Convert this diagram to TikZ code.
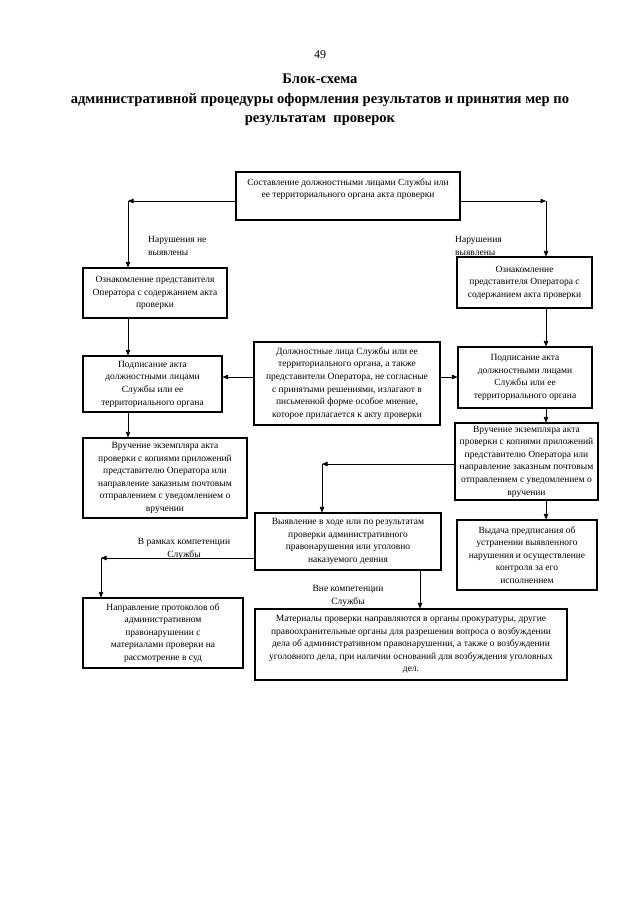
\documentclass[tikz,border=0pt]{standalone}
\usepackage{fontspec}
\setmainfont{Liberation Serif}
\usetikzlibrary{arrows.meta}
\newcommand\bx{\fontsize{9.5}{12.6}\selectfont}
\newcommand\ttl{\fontsize{14.6}{19.5}\selectfont\bfseries}
\begin{document}
\begin{tikzpicture}[x=1pt,y=-1pt,
  box/.style={draw, line width=1.1pt, inner sep=0pt, align=center, font=\bx},
  txt/.style={inner sep=0pt, align=center, font=\bx},
  lbl/.style={inner sep=0pt, font=\bx},
  arr/.style={line width=0.6pt, -{Triangle[length=5.5pt,width=4.5pt]}}]
\useasboundingbox[fill=white] (0,0) rectangle (640,905);

\node[inner sep=0pt, font=\fontsize{12}{14}\selectfont] (pg) at (320,55) {49};
\node[inner sep=0pt, align=center, font=\ttl] (title) at (320,100)
  {Блок-схема\\административной процедуры оформления результатов и принятия мер по\\результатам\ \ проверок};

% boxes
\node[box, minimum width=224pt, minimum height=48pt] (top) at (348,196) {};
\node[txt] (toptxt) at (348,189) {Составление должностными лицами Службы или\\ее территориального органа акта проверки};

\node[box, minimum width=144pt, minimum height=50pt] (l1) at (155,293)
  {Ознакомление представителя\\Оператора с содержанием акта\\проверки};
\node[box, minimum width=135pt, minimum height=51pt] (r1) at (524.5,282.5)
  {Ознакомление\\представителя Оператора с\\содержанием акта проверки};

\node[box, minimum width=139pt, minimum height=56pt] (l2) at (152.5,384)
  {Подписание акта\\должностными лицами\\Службы или ее\\территориального органа};
\node[box, minimum width=186pt, minimum height=83pt] (mid) at (347,383.5)
  {Должностные лица Службы или ее\\территориального органа, а также\\представители Оператора, не согласные\\с принятыми решениями, излагают в\\письменной форме особое мнение,\\которое прилагается к акту проверки};
\node[box, minimum width=134pt, minimum height=61pt] (r2) at (525,377.5)
  {Подписание акта\\должностными лицами\\Службы или ее\\территориального органа};

\node[box, minimum width=164pt, minimum height=80pt] (l3) at (165,478)
  {Вручение экземпляра акта\\проверки с копиями приложений\\представителю Оператора или\\направление заказным почтовым\\отправлением с уведомлением о\\вручении};
\node[box, minimum width=143pt, minimum height=77pt] (r3) at (526.5,461.5)
  {Вручение экземпляра акта\\проверки с копиями приложений\\представителю Оператора или\\направление заказным почтовым\\отправлением с уведомлением о\\вручении};

\node[box, minimum width=186pt, minimum height=57pt] (vy) at (348,541.5)
  {Выявление в ходе или по результатам\\проверки административного\\правонарушения или уголовно\\наказуемого деяния};
\node[box, minimum width=140pt, minimum height=70pt] (vd) at (527,555)
  {Выдача предписания об\\устранении выявленного\\нарушения и осуществление\\контроля за его\\исполнением};

\node[box, minimum width=160pt, minimum height=70pt] (np) at (163,633)
  {Направление протоколов об\\административном\\правонарушении с\\материалами проверки на\\рассмотрение в суд};
\node[box, minimum width=312pt, minimum height=71pt] (mt) at (411,644.5)
  {Материалы проверки направляются в органы прокуратуры, другие\\правоохранительные органы для разрешения вопроса о возбуждении\\дела об административном правонарушении, а также о возбуждении\\уголовного дела, при наличии оснований для возбуждения уголовных\\дел.};

% labels
\node[lbl, anchor=west, align=left] (ln) at (148,246) {Нарушения не\\выявлены};
\node[lbl, anchor=west, align=left] (ly) at (455,246) {Нарушения\\выявлены};
\node[lbl, align=center] (lr) at (184,549) {В рамках компетенции\\Службы};
\node[lbl, align=center] (lv) at (348,596) {Вне компетенции\\Службы};

% bend points
\coordinate (tl) at (128,201);
\coordinate (tr) at (546,201);
\coordinate (cr3) at (322,464);
\coordinate (cvy) at (101,558);

% connectors
\draw[arr] (top.west |- tl) -- (tl);
\draw[arr] (tl) -- (l1.north -| tl);
\draw[arr] (top.east |- tr) -- (tr);
\draw[arr] (tr) -- (r1.north -| tr);

\draw[arr] (l1.south -| tl) -- (l2.north -| tl);
\draw[arr] (l2.south -| tl) -- (l3.north -| tl);
\draw[arr] (r1.south -| tr) -- (r2.north -| tr);
\draw[arr] (r2.south -| tr) -- (r3.north -| tr);
\draw[arr] (r3.south -| tr) -- (vd.north -| tr);

\coordinate (my) at (0,377);
\draw[arr] (mid.west |- my) -- (l2.east |- my);
\draw[arr] (mid.east |- my) -- (r2.west |- my);

\draw[arr] (r3.west |- cr3) -- (cr3);
\draw[arr] (cr3) -- (vy.north -| cr3);

\draw[arr] (vy.west |- cvy) -- (cvy);
\draw[arr] (cvy) -- (np.north -| cvy);

\coordinate (cv) at (420,0);
\draw[arr] (vy.south -| cv) -- (mt.north -| cv);
\end{tikzpicture}
\end{document}
